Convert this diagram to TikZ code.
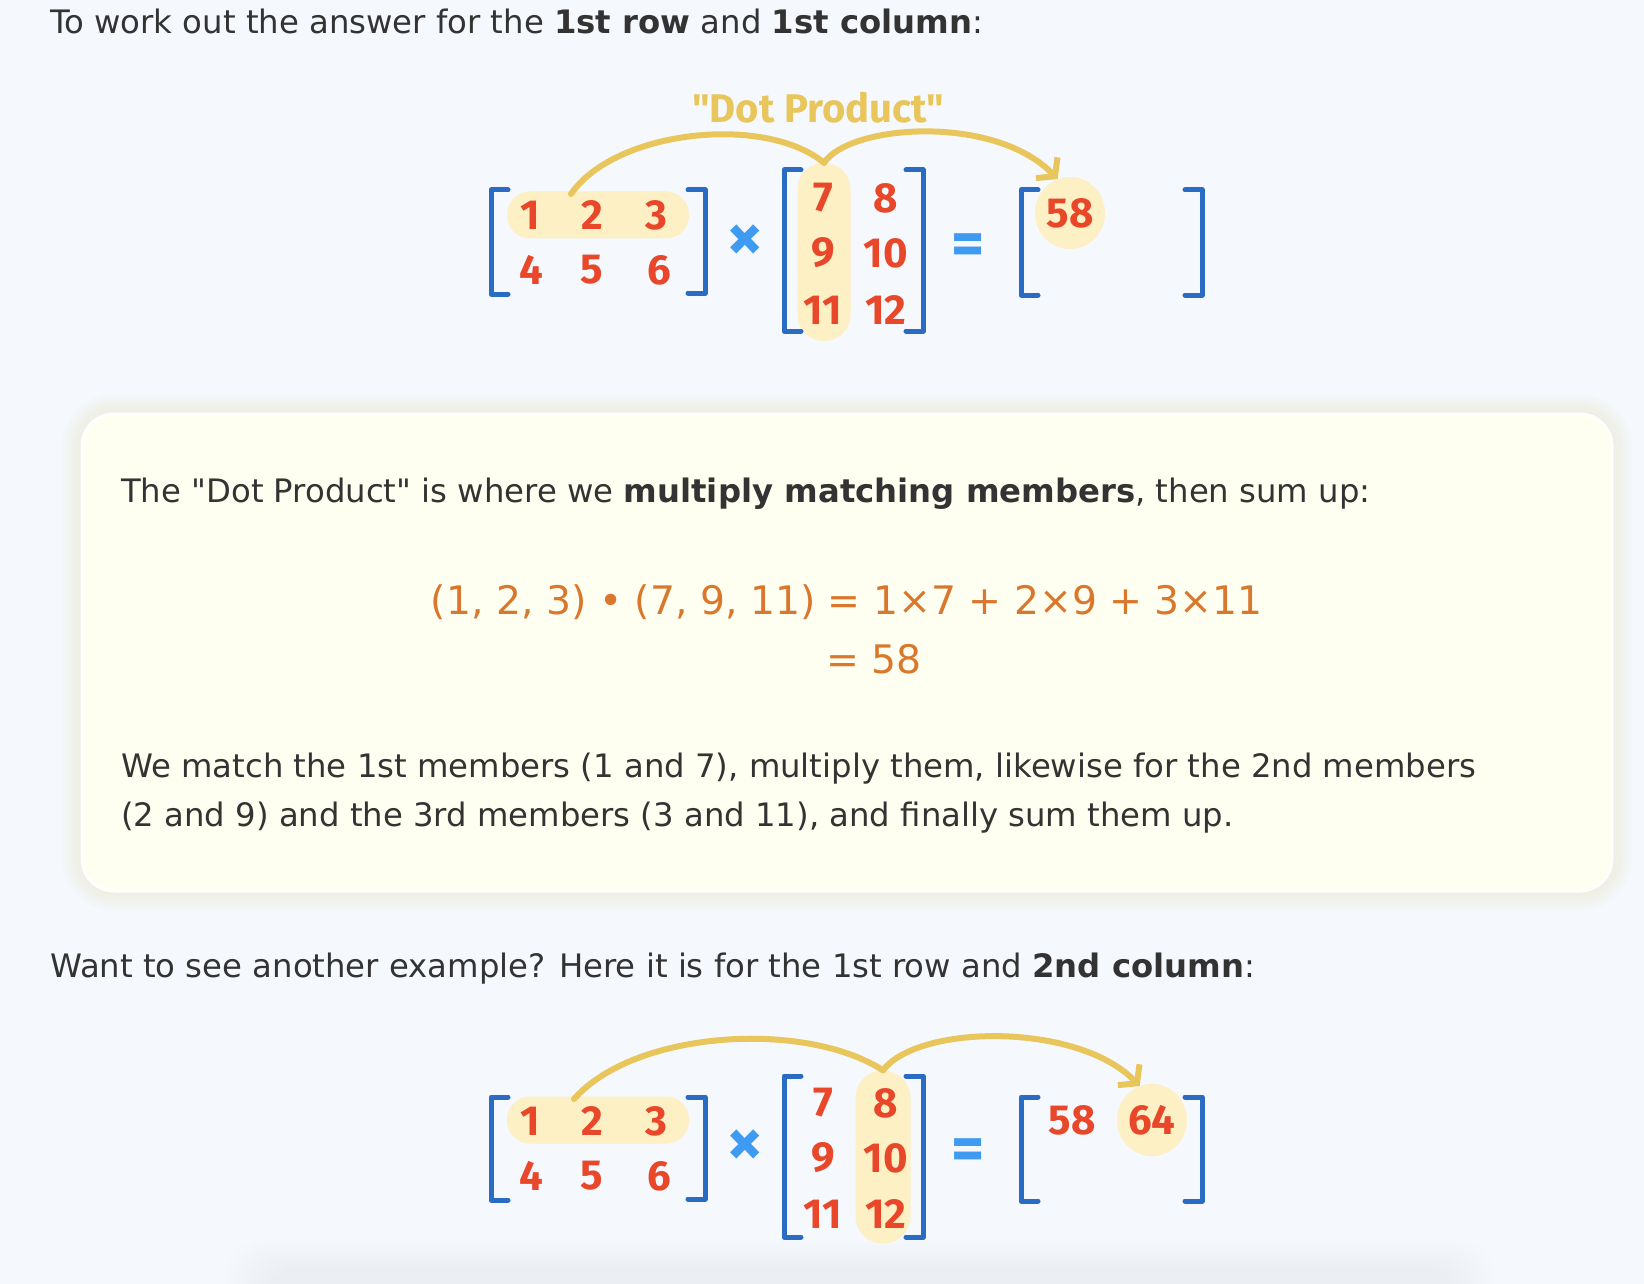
\documentclass[tikz,border=0pt]{standalone}
\usepackage{fontspec}
\newfontfamily\dvs{DejaVu Sans}
\newfontfamily\numfont{Fira Sans}
\usetikzlibrary{arrows.meta,shapes.geometric}
\definecolor{bg}{HTML}{F5F8FD}
\definecolor{card}{HTML}{FFFFF1}
\definecolor{glowc}{HTML}{EFE6B8}
\definecolor{shd}{HTML}{E6E9EF}
\definecolor{txt}{HTML}{333333}
\definecolor{orng}{HTML}{D9782D}
\definecolor{numred}{HTML}{E8472A}
\definecolor{brk}{HTML}{2A6BC3}
\definecolor{opblue}{HTML}{3F9BF2}
\definecolor{hl}{HTML}{FDF0C4}
\definecolor{arrc}{HTML}{E9C65C}
\tikzset{
  body/.style={anchor=base west, inner sep=0, text=txt, font=\dvs\fontsize{32.3}{38}\selectfont},
  eqn/.style={anchor=base, inner sep=0, text=orng, font=\dvs\fontsize{39.3}{44}\selectfont},
  num/.style={inner sep=0, text=numred, font=\numfont\bfseries\fontsize{42}{46}\selectfont},
  op/.style={inner sep=0, text=opblue, font=\numfont\bfseries\fontsize{72}{76}\selectfont},
  eqop/.style={inner sep=0, text=opblue, font=\numfont\bfseries\fontsize{64}{68}\selectfont},
  brkt/.style={draw=brk, line width=5pt, line cap=round, line join=round},
  pill/.style={fill=hl, inner sep=0},
  resc/.style={ellipse, fill=hl, inner sep=0, minimum width=70pt, minimum height=72pt, text=numred, font=\numfont\bfseries\fontsize{42}{46}\selectfont},
  arrline/.style={draw=arrc, line width=6pt, line cap=round},
  arrtip/.style={arrline, -{Straight Barb[length=12pt,width=30pt]}},
  dotlbl/.style={inner sep=0, text=arrc, font=\numfont\bfseries\fontsize{40}{44}\selectfont}
}
\newcommand\lbrk[3]{\draw[brkt] (#1+17,#2) -- (#1,#2) -- (#1,#3) -- (#1+17,#3);}
\newcommand\rbrk[3]{\draw[brkt] (#1-17,#2) -- (#1,#2) -- (#1,#3) -- (#1-17,#3);}
\begin{document}
\begin{tikzpicture}[x=1pt,y=-1pt]
\fill[bg] (0,0) rectangle (1644,1284);
\useasboundingbox (0,0) rectangle (1644,1284);
% bottom faint shadow
\foreach \i in {0,...,9} \fill[shd, opacity=0.05, rounded corners=40pt] (262-\i*4,1266-\i*3) rectangle (1458+\i*4,1420);
% heading
\node[body] (h1) at (50,34) {To work out the answer for the \textbf{1st row} and \textbf{1st column}:};

% ---------- diagram 1 ----------
\node[dotlbl] (dp) at (818,108) {"Dot Product"};
\node[pill, rounded corners=23pt, minimum width=182pt, minimum height=47pt] (pA) at (598,215) {};
\node[pill, rounded corners=26pt, minimum width=53pt, minimum height=178pt] (cA) at (824,252) {};
\node[resc] (r1) at (1070,213) {58};
\lbrk{491}{190}{294} \rbrk{705}{190}{293}
\lbrk{784}{170}{331} \rbrk{923}{170}{331}
\lbrk{1021}{190}{295} \rbrk{1202}{190}{295}
\node[num] (a1) at (530,215) {1};
\node[num] (a2) at (592,215) {2};
\node[num] (a3) at (656,215) {3};
\node[num] (a4) at (531,270) {4};
\node[num] (a5) at (592,270) {5};
\node[num] (a6) at (659,270) {6};
\node[num] (b7) at (823,198) {7};
\node[num] (b8) at (886,198) {8};
\node[num] (b9) at (823,253) {9};
\node[num] (b10) at (886,253) {10};
\node[num] (b11) at (823,310) {11};
\node[num] (b12) at (886,310) {12};
\node[op] (x1) at (745,243) {×};
\node[eqop] (e1) at (968,250) {=};
\coordinate (s1) at (571,194);
\draw[arrline] (s1) .. controls (615,130) and (765,114) .. (cA.north);
\draw[arrtip] (cA.north) .. controls (850,124) and (995,114) .. (r1.110);

% ---------- card ----------
\foreach \i [evaluate=\i as \rr using 32+2*\i] in {1,...,10}
  \fill[glowc, opacity=0.04, rounded corners=\rr pt] (82-\i*2,414-\i*2) rectangle (1612+\i*2,891+\i*2);
\draw[white, line width=3pt, fill=card, rounded corners=32pt] (82,414) rectangle (1612,891);
\node[body] (t1) at (121,502) {The "Dot Product" is where we \textbf{multiply matching members}, then sum up:};
\node[eqn] (q1) at (847,614) {(1, 2, 3) • (7, 9, 11) = 1×7 + 2×9 + 3×11};
\node[eqn] (q2) at (874,673) {= 58};
\node[body] (t2) at (121,777) {We match the 1st members (1 and 7), multiply them, likewise for the 2nd members};
\node[body] (t3) at (121,826) {(2 and 9) and the 3rd members (3 and 11), and finally sum them up.};

\node[body] (h2) at (50,977) {Want to see another example? Here it is for the 1st row and \textbf{2nd column}:};

% ---------- diagram 2 ----------
\node[pill, rounded corners=23pt, minimum width=182pt, minimum height=47pt] (pB) at (598,1120) {};
\node[pill, rounded corners=27pt, minimum width=55pt, minimum height=173pt] (cB) at (883,1157) {};
\node[resc] (r2) at (1152,1120) {64};
\lbrk{491}{1097}{1200} \rbrk{705}{1097}{1199}
\lbrk{784}{1076}{1237} \rbrk{923}{1076}{1237}
\lbrk{1021}{1097}{1201} \rbrk{1202}{1097}{1201}
\node[num] (c1) at (530,1121) {1};
\node[num] (c2) at (592,1121) {2};
\node[num] (c3) at (656,1121) {3};
\node[num] (c4) at (531,1176) {4};
\node[num] (c5) at (592,1176) {5};
\node[num] (c6) at (659,1176) {6};
\node[num] (d7) at (823,1103) {7};
\node[num] (d8) at (886,1103) {8};
\node[num] (d9) at (823,1158) {9};
\node[num] (d10) at (886,1158) {10};
\node[num] (d11) at (823,1214) {11};
\node[num] (d12) at (886,1214) {12};
\node[num] (r2a) at (1072,1120) {58};
\node[op] (x2) at (745,1148) {×};
\node[eqop] (e2) at (968,1155) {=};
\coordinate (s2) at (574,1099);
\draw[arrline] (s2) .. controls (635,1030) and (805,1020) .. (cB.north);
\draw[arrtip] (cB.north) .. controls (918,1024) and (1078,1022) .. (r2.110);
\end{tikzpicture}
\end{document}
